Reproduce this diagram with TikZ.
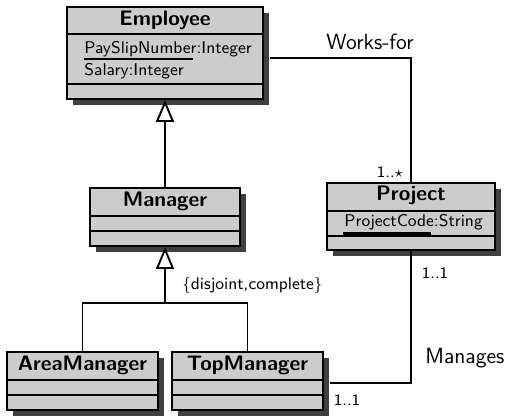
\documentclass[tikz,border=0pt]{standalone}
\usetikzlibrary{arrows.meta,shadows,fit,calc}
\begin{document}
\begin{tikzpicture}[x=0.5pt,y=-0.5pt,
 cls/.style={draw=black, line width=1pt, fill=gray!40, inner sep=0pt,
   drop shadow={shadow xshift=3pt, shadow yshift=-3pt, fill=black!75, opacity=1}},
 sep/.style={line width=1pt},
 ttl/.style={font=\sffamily\bfseries\fontsize{10.5}{12}\selectfont},
 att/.style={font=\sffamily\fontsize{8.5}{10}\selectfont, anchor=west, inner sep=0pt},
 conn/.style={line width=0.95pt},
 lbl/.style={font=\sffamily\fontsize{11}{13}\selectfont},
 mult/.style={font=\sffamily\fontsize{8}{10}\selectfont},
 gen/.style={conn, -{Triangle[open, width=9pt, length=11pt, line width=0.95pt]}}
]
\useasboundingbox (0,0) rectangle (508,416);

% Employee
\node[cls, fit={(67,7) (263,99)}] (emp) {};
\draw[sep] (67,34) -- (263,34);
\draw[sep] (67,84) -- (263,84);
\node[ttl] (empT) at (165,20) {Employee};
\node[att] (empA1) at (84,49) {PaySlipNumber:Integer};
\node[att] (empA2) at (84,71) {Salary:Integer};
\draw[line width=1.1pt] (84,59) -- (193,59);

% Manager
\node[cls, fit={(90,188) (240,246)}] (man) {};
\draw[sep] (90,216) -- (240,216);
\draw[sep] (90,231) -- (240,231);
\node[ttl] (manT) at (165,201) {Manager};

% AreaManager
\node[cls, fit={(7,352) (158,410)}] (am) {};
\draw[sep] (7,380) -- (158,380);
\draw[sep] (7,395) -- (158,395);
\node[ttl] (amT) at (82.5,365) {AreaManager};

% TopManager
\node[cls, fit={(172,352) (323,410)}] (tm) {};
\draw[sep] (172,380) -- (323,380);
\draw[sep] (172,395) -- (323,395);
\node[ttl] (tmT) at (247.5,365) {TopManager};

% Project
\node[cls, fit={(327,183) (495,250)}] (proj) {};
\draw[sep] (327,211) -- (495,211);
\draw[sep] (327,236) -- (495,236);
\node[ttl] (projT) at (411,195) {Project};
\node[att] (projA1) at (344,222) {ProjectCode:String};
\draw[line width=1.6pt] (343,234) -- (431,234);

% generalizations
\draw[gen] (man.north) -- (emp.south);
\coordinate (jn) at (165,303);
\draw[conn] (am.north) |- (jn) -| (tm.north);
\draw[gen] (jn) -- (man.south);
\node[att] (dc) at (182,286) {$\{$disjoint,complete$\}$};

% Works-for
\coordinate (wf) at (411,58);
\draw[conn] ($(emp.east |- wf)+(6,0)$) -- (wf) -- (proj.north);
\node[lbl] (wfl) at (370,42) {Works-for};
\node[mult] (m1) at (390,172) {1..$\star$};

% Manages
\coordinate (mg) at (411,383);
\draw[conn] (proj.south) -- (mg) -- ($(tm.east |- mg)+(6,0)$);
\node[lbl, anchor=west, inner sep=0pt] (mgl) at (425,358) {Manages};
\node[mult] (m2) at (435,273) {1..1};
\node[mult] (m3) at (347,400) {1..1};
\end{tikzpicture}
\end{document}
